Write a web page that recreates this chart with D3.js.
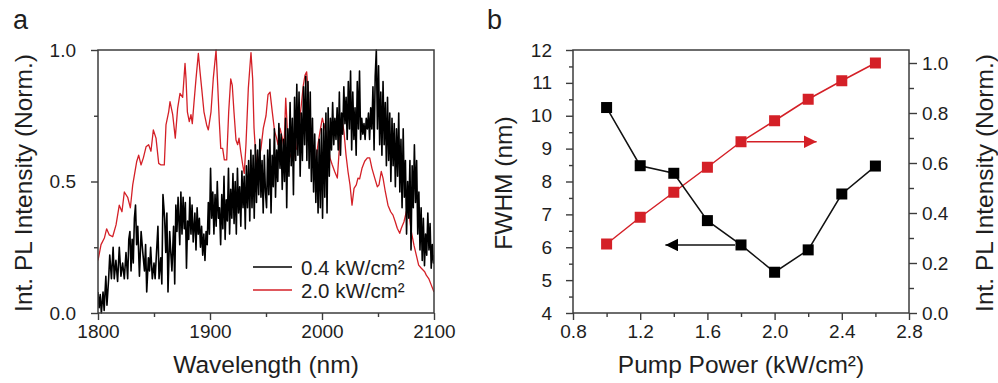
<!DOCTYPE html>
<html>
<head>
<meta charset="utf-8">
<script src="https://cdn.jsdelivr.net/npm/d3@7"></script>
<style>
  html, body { margin: 0; padding: 0; background: #fff; }
  svg { display: block; }
</style>
</head>
<body>
<div id="chart"></div>
<script>
// ---- panel a: PL spectra (wavelength nm, normalised intensity) ----
const lowPumpSpectrum = [
  [1800.0,0.08],[1801.0,0.02],[1802.0,0.07],[1803.0,0.00],[1804.5,0.08],[1805.5,0.01],[1807.0,0.14],[1808.0,0.03],
  [1809.5,0.13],[1810.5,0.22],[1812.0,0.13],[1813.5,0.25],[1814.5,0.13],[1816.0,0.20],[1817.5,0.12],[1819.0,0.25],
  [1820.5,0.14],[1822.0,0.19],[1823.5,0.13],[1825.0,0.23],[1826.5,0.13],[1827.5,0.28],[1828.5,0.31],[1829.5,0.16],
  [1830.5,0.28],[1831.5,0.19],[1832.5,0.36],[1833.5,0.41],[1834.5,0.26],[1835.5,0.33],[1837.0,0.14],[1838.5,0.31],
  [1840.0,0.23],[1841.5,0.16],[1842.5,0.26],[1843.5,0.08],[1845.0,0.21],[1846.0,0.16],[1847.0,0.25],[1848.5,0.13],
  [1850.0,0.19],[1851.0,0.13],[1852.5,0.25],[1853.5,0.33],[1854.5,0.13],[1856.0,0.21],[1857.0,0.11],[1858.0,0.45],
  [1859.5,0.36],[1860.5,0.23],[1861.5,0.38],[1862.5,0.08],[1864.0,0.31],[1865.0,0.23],[1866.0,0.16],[1867.5,0.33],
  [1868.5,0.11],[1869.5,0.41],[1870.5,0.31],[1871.5,0.44],[1873.0,0.26],[1874.0,0.46],[1875.0,0.30],[1876.0,0.44],
  [1877.0,0.32],[1878.0,0.42],[1879.0,0.17],[1880.0,0.35],[1881.0,0.28],[1882.0,0.44],[1883.0,0.30],[1884.0,0.41],
  [1885.0,0.27],[1886.5,0.38],[1887.5,0.24],[1888.5,0.40],[1889.5,0.30],[1890.5,0.36],[1891.5,0.25],[1892.5,0.33],
  [1893.5,0.22],[1894.5,0.30],[1895.5,0.20],[1896.5,0.31],[1897.5,0.26],[1898.5,0.42],[1899.5,0.30],[1900.5,0.55],
  [1901.5,0.36],[1902.5,0.46],[1903.5,0.30],[1904.5,0.45],[1905.5,0.33],[1906.5,0.50],[1907.5,0.36],[1908.5,0.40],
  [1909.5,0.26],[1910.5,0.45],[1911.5,0.32],[1912.5,0.52],[1913.5,0.28],[1914.5,0.43],[1915.5,0.35],[1916.5,0.55],
  [1917.5,0.30],[1918.5,0.47],[1919.5,0.36],[1920.5,0.53],[1921.5,0.34],[1922.5,0.50],[1923.5,0.30],[1924.5,0.55],
  [1925.5,0.38],[1926.5,0.48],[1927.5,0.33],[1928.5,0.54],[1929.5,0.40],[1930.5,0.52],[1931.5,0.32],[1932.5,0.56],
  [1933.5,0.40],[1934.5,0.58],[1935.5,0.35],[1936.5,0.62],[1937.5,0.40],[1938.5,0.60],[1939.5,0.36],[1940.5,0.64],
  [1941.5,0.42],[1942.5,0.62],[1943.5,0.45],[1944.5,0.66],[1945.5,0.44],[1946.5,0.58],[1947.5,0.38],[1948.5,0.60],
  [1949.5,0.46],[1950.5,0.40],[1951.5,0.62],[1952.5,0.45],[1953.5,0.66],[1954.5,0.38],[1955.5,0.60],[1956.5,0.48],
  [1957.5,0.70],[1958.5,0.44],[1959.5,0.62],[1960.5,0.50],[1961.5,0.72],[1962.5,0.55],[1963.5,0.68],[1964.5,0.47],
  [1965.5,0.66],[1966.5,0.50],[1967.5,0.74],[1968.5,0.40],[1969.5,0.70],[1970.5,0.52],[1971.5,0.80],[1972.5,0.56],
  [1973.5,0.74],[1974.5,0.45],[1975.5,0.82],[1976.5,0.58],[1977.5,0.87],[1978.5,0.60],[1979.5,0.84],[1980.5,0.52],
  [1981.5,0.76],[1982.5,0.58],[1983.5,0.86],[1984.5,0.64],[1985.5,0.90],[1986.5,0.58],[1987.5,0.88],[1988.5,0.55],
  [1989.5,0.84],[1990.5,0.50],[1991.5,0.74],[1992.5,0.46],[1993.5,0.68],[1994.5,0.42],[1995.5,0.62],[1996.5,0.38],
  [1997.5,0.66],[1998.5,0.40],[1999.5,0.70],[2000.5,0.36],[2001.5,0.72],[2002.5,0.44],[2003.5,0.76],[2004.5,0.38],
  [2005.5,0.78],[2006.5,0.52],[2007.5,0.74],[2008.5,0.62],[2009.5,0.80],[2010.5,0.64],[2011.5,0.74],[2012.5,0.66],
  [2013.5,0.78],[2014.5,0.62],[2015.5,0.84],[2016.5,0.60],[2017.5,0.76],[2018.5,0.68],[2019.5,0.86],[2020.5,0.72],
  [2021.5,0.82],[2022.5,0.66],[2023.5,0.88],[2024.5,0.70],[2025.5,0.92],[2026.5,0.62],[2027.5,0.84],[2028.5,0.66],
  [2029.5,0.78],[2030.5,0.60],[2031.5,0.88],[2032.5,0.70],[2033.5,0.92],[2034.5,0.66],[2035.5,0.74],[2036.5,0.68],
  [2037.5,0.72],[2038.5,0.66],[2039.5,0.74],[2040.5,0.70],[2041.5,0.76],[2042.5,0.66],[2043.5,0.78],[2044.5,0.70],
  [2045.5,0.86],[2046.5,0.62],[2047.5,0.90],[2048.5,1.00],[2049.5,0.70],[2050.5,0.94],[2051.5,0.64],[2052.5,0.84],
  [2053.5,0.60],[2054.5,0.88],[2055.5,0.64],[2056.5,0.80],[2057.5,0.56],[2058.5,0.82],[2059.5,0.58],[2060.5,0.76],
  [2061.5,0.50],[2062.5,0.74],[2063.5,0.56],[2064.5,0.72],[2065.5,0.48],[2066.5,0.70],[2067.5,0.52],[2068.5,0.76],
  [2069.5,0.46],[2070.5,0.66],[2071.5,0.40],[2072.5,0.70],[2073.5,0.44],[2074.5,0.58],[2075.5,0.30],[2076.5,0.50],
  [2077.5,0.36],[2078.5,0.58],[2079.5,0.24],[2080.5,0.56],[2081.5,0.40],[2082.5,0.64],[2083.5,0.42],[2084.5,0.58],
  [2085.5,0.30],[2086.5,0.46],[2087.5,0.24],[2088.5,0.40],[2089.5,0.20],[2090.5,0.36],[2091.5,0.18],[2092.5,0.30],
  [2093.5,0.22],[2094.5,0.38],[2095.5,0.24],[2096.5,0.34],[2097.5,0.17],[2098.5,0.26],[2099.5,0.19],[2100.0,0.22]
];

const highPumpSpectrum = [
  [1800.0,0.20],[1802.7,0.26],[1805.7,0.285],[1807.7,0.32],[1810.1,0.297],[1813.1,0.29],[1816.1,0.335],[1819.0,0.41],
  [1821.4,0.385],[1823.5,0.46],[1826.5,0.44],[1828.9,0.40],[1831.0,0.487],[1834.5,0.575],[1836.3,0.60],[1838.4,0.563],
  [1840.5,0.59],[1842.9,0.632],[1845.2,0.64],[1847.3,0.615],[1849.4,0.696],[1851.8,0.665],[1854.2,0.569],[1856.3,0.563],
  [1859.2,0.563],[1860.7,0.715],[1863.1,0.765],[1864.3,0.804],[1866.7,0.754],[1869.0,0.665],[1871.1,0.778],[1873.2,0.835],
  [1875.6,0.82],[1877.7,0.949],[1878.6,0.89],[1879.8,0.765],[1881.5,0.728],[1883.0,0.754],[1884.2,0.72],[1885.7,0.80],
  [1887.5,0.89],[1889.6,0.987],[1891.1,0.917],[1892.6,0.853],[1894.6,0.765],[1897.0,0.715],[1898.5,0.696],[1900.9,0.765],
  [1902.9,0.89],[1905.4,1.0],[1906.9,0.865],[1908.3,0.728],[1909.6,0.626],[1911.3,0.626],[1912.8,0.582],[1914.9,0.582],
  [1916.7,0.765],[1918.5,0.89],[1919.9,0.865],[1921.4,0.765],[1923.2,0.658],[1924.7,0.64],[1925.9,0.665],[1927.4,0.615],
  [1929.2,0.563],[1930.6,0.531],[1932.1,0.64],[1934.2,0.853],[1935.7,0.94],[1936.6,0.99],[1938.1,0.89],[1939.3,0.703],
  [1940.8,0.602],[1942.2,0.55],[1944.0,0.59],[1945.5,0.626],[1947.6,0.703],[1950.0,0.75],[1951.8,0.83],[1953.6,0.84],
  [1955.6,0.765],[1957.7,0.69],[1959.5,0.665],[1960.7,0.64],[1962.5,0.703],[1964.6,0.665],[1966.1,0.626],[1967.6,0.817],
  [1969.0,0.703],[1970.5,0.615],[1972.6,0.59],[1974.4,0.577],[1975.6,0.615],[1977.4,0.626],[1979.5,0.715],[1981.5,0.79],
  [1983.3,0.865],[1984.8,0.904],[1986.3,0.917],[1987.8,0.83],[1989.3,0.703],[1991.3,0.615],[1992.9,0.577],[1994.4,0.577],
  [1996.4,0.64],[1998.2,0.69],[2000.3,0.741],[2001.8,0.715],[2003.3,0.69],[2005.4,0.64],[2007.1,0.59],[2009.2,0.563],
  [2011.3,0.538],[2013.7,0.513],[2016.1,0.665],[2018.1,0.728],[2019.6,0.69],[2021.4,0.602],[2023.2,0.538],[2025.0,0.487],
  [2026.8,0.41],[2028.6,0.474],[2030.6,0.487],[2032.1,0.513],[2033.6,0.51],[2035.7,0.55],[2038.1,0.577],[2040.5,0.59],
  [2042.6,0.59],[2044.6,0.55],[2047.1,0.513],[2049.4,0.48],[2050.9,0.487],[2052.9,0.538],[2054.5,0.513],[2056.5,0.462],
  [2058.9,0.41],[2061.3,0.385],[2063.4,0.372],[2065.4,0.347],[2067.2,0.322],[2069.4,0.303],[2070.8,0.322],[2073.2,0.347],
  [2075.3,0.385],[2076.8,0.404],[2078.3,0.36],[2079.7,0.31],[2082.1,0.258],[2084.2,0.22],[2086.3,0.182],[2088.7,0.17],
  [2091.7,0.157],[2093.1,0.144],[2095.3,0.131],[2097.6,0.106],[2100.0,0.08]
];

const spectrumLabels = ['0.4 kW/cm\u00b2', '2.0 kW/cm\u00b2'];
const wavelengthTicks = [1800, 1900, 2000, 2100];
const wavelengthMinor = [1850, 1950, 2050];
const intensityTicks = [0, 0.5, 1.0];
const intensityMinor = [0.25, 0.75];

// ---- panel b: FWHM and integrated PL vs pump power ----
const pumpPower = [1.0, 1.2, 1.4, 1.6, 1.8, 2.0, 2.2, 2.4, 2.6];
const fwhm = [10.25, 8.48, 8.25, 6.81, 6.07, 5.24, 5.92, 7.62, 8.47];
const plIntensity = [0.276, 0.383, 0.483, 0.583, 0.685, 0.769, 0.855, 0.929, 1.0];
const pumpTicks = [0.8, 1.2, 1.6, 2.0, 2.4, 2.8];
const pumpMinor = [1.0, 1.4, 1.8, 2.2, 2.6];
const fwhmTicks = [4, 5, 6, 7, 8, 9, 10, 11, 12];
const fwhmMinor = [4.5, 5.5, 6.5, 7.5, 8.5, 9.5, 10.5, 11.5];
const plTicks = [0, 0.2, 0.4, 0.6, 0.8, 1.0];
const plMinor = [0.1, 0.3, 0.5, 0.7, 0.9];

const FONT = '"Liberation Sans", Arial, Helvetica, sans-serif';
const RED = '#d42027';
const AXIS = '#3c3c3c';
const TXT = '#1e1e1e';

const svg = d3.select('#chart').append('svg')
  .attr('width', 998)
  .attr('height', 383);
svg.append('rect').attr('width', 998).attr('height', 383).attr('fill', '#fff');

const defs = svg.append('defs');
['black', 'red'].forEach(c => {
  defs.append('marker')
    .attr('id', 'head-' + c)
    .attr('viewBox', '0 0 13 13')
    .attr('refX', 13).attr('refY', 6.5)
    .attr('markerWidth', 13).attr('markerHeight', 13)
    .attr('markerUnits', 'userSpaceOnUse')
    .attr('orient', 'auto')
    .append('path')
    .attr('d', 'M0,0 L13,6.5 L0,13 Z')
    .attr('fill', c === 'red' ? RED : '#000');
});

function styleAxis(g, size) {
  g.attr('font-family', FONT).attr('font-size', size);
  g.select('.domain').remove();
  g.selectAll('line').attr('stroke', AXIS).attr('stroke-width', 1.4);
  g.selectAll('text').attr('fill', TXT);
}

function addAxis(axis, tx, ty, size) {
  const g = svg.append('g').attr('transform', `translate(${tx},${ty})`).call(axis);
  styleAxis(g, size);
  return g;
}

function frame(x, y) {
  svg.append('rect')
    .attr('x', x.range()[0]).attr('y', y.range()[1])
    .attr('width', x.range()[1] - x.range()[0])
    .attr('height', y.range()[0] - y.range()[1])
    .attr('fill', 'none').attr('stroke', AXIS).attr('stroke-width', 1.5);
}

function label(txt, x, y, size, opts = {}) {
  const t = svg.append('text')
    .attr('x', x).attr('y', y)
    .attr('font-family', FONT).attr('font-size', size)
    .attr('fill', TXT)
    .attr('text-anchor', opts.anchor || 'middle')
    .text(txt);
  if (opts.rotate) t.attr('transform', `rotate(-90,${x},${y})`);
  return t;
}

// ================= panel a =================
const xA = d3.scaleLinear().domain([1800, 2100]).range([98, 434]);
const yA = d3.scaleLinear().domain([0, 1]).range([313, 50]);

svg.append('clipPath').attr('id', 'clipA')
  .append('rect').attr('x', 98).attr('y', 49).attr('width', 336).attr('height', 265);

const lineA = d3.line().x(d => xA(d[0])).y(d => yA(d[1]));

svg.append('path').datum(highPumpSpectrum)
  .attr('clip-path', 'url(#clipA)')
  .attr('d', lineA).attr('fill', 'none')
  .attr('stroke', RED).attr('stroke-width', 1.3).attr('stroke-linejoin', 'round');

svg.append('path').datum(lowPumpSpectrum)
  .attr('clip-path', 'url(#clipA)')
  .attr('d', lineA).attr('fill', 'none')
  .attr('stroke', '#000').attr('stroke-width', 1.6).attr('stroke-linejoin', 'round');

frame(xA, yA);

addAxis(d3.axisBottom(xA).tickValues(wavelengthMinor).tickSize(4).tickFormat(''), 0, 313, 19);
addAxis(d3.axisBottom(xA).tickValues(wavelengthTicks).tickSize(7).tickPadding(5).tickFormat(d3.format('d')), 0, 313, 19);
addAxis(d3.axisLeft(yA).tickValues(intensityMinor).tickSize(4).tickFormat(''), 98, 0, 19);
addAxis(d3.axisLeft(yA).tickValues(intensityTicks).tickSize(7).tickPadding(15).tickFormat(d3.format('.1f')), 98, 0, 19);

// legend
const legendY = [267, 290];
[['#000', 1.6], [RED, 1.3]].forEach((s, i) => {
  svg.append('line')
    .attr('x1', 253).attr('x2', 292)
    .attr('y1', legendY[i]).attr('y2', legendY[i])
    .attr('stroke', s[0]).attr('stroke-width', s[1]);
  label(spectrumLabels[i], 301, legendY[i] + 7.5, 20.5, { anchor: 'start' });
});

label('Wavelength (nm)', 266, 373, 24.5);
label('Int. PL Intensity (Norm.)', 32, 183, 24.5, { rotate: true });
label('a', 13, 29, 27, { anchor: 'start' });

// ================= panel b =================
const xB = d3.scaleLinear().domain([0.8, 2.8]).range([573, 909]);
const yB = d3.scaleLinear().domain([4, 12]).range([313, 50]);
const yB2 = d3.scaleLinear().domain([0, 1.052]).range([313, 50]);

const fwhmPts = d3.zip(pumpPower, fwhm);
const plPts = d3.zip(pumpPower, plIntensity);

svg.append('path').datum(plPts)
  .attr('d', d3.line().x(d => xB(d[0])).y(d => yB2(d[1])))
  .attr('fill', 'none').attr('stroke', RED).attr('stroke-width', 1.5);

svg.append('path').datum(fwhmPts)
  .attr('d', d3.line().x(d => xB(d[0])).y(d => yB(d[1])))
  .attr('fill', 'none').attr('stroke', '#111').attr('stroke-width', 1.5);

// arrows pointing to the axis each series belongs to
svg.append('line')
  .attr('x1', xB(1.8) + 6).attr('x2', xB(2.25))
  .attr('y1', yB2(plIntensity[4])).attr('y2', yB2(plIntensity[4]))
  .attr('stroke', RED).attr('stroke-width', 1.5)
  .attr('marker-end', 'url(#head-red)');
svg.append('line')
  .attr('x1', xB(1.8) - 6).attr('x2', xB(1.35))
  .attr('y1', yB(fwhm[4])).attr('y2', yB(fwhm[4]))
  .attr('stroke', '#111').attr('stroke-width', 1.5)
  .attr('marker-end', 'url(#head-black)');

const sq = 11;
svg.append('g').selectAll('rect').data(plPts).enter().append('rect')
  .attr('x', d => xB(d[0]) - sq / 2).attr('y', d => yB2(d[1]) - sq / 2)
  .attr('width', sq).attr('height', sq)
  .attr('fill', RED);

svg.append('g').selectAll('rect').data(fwhmPts).enter().append('rect')
  .attr('x', d => xB(d[0]) - sq / 2).attr('y', d => yB(d[1]) - sq / 2)
  .attr('width', sq).attr('height', sq)
  .attr('fill', '#000');

frame(xB, yB);

addAxis(d3.axisBottom(xB).tickValues(pumpMinor).tickSize(4).tickFormat(''), 0, 313, 19);
addAxis(d3.axisBottom(xB).tickValues(pumpTicks).tickSize(7).tickPadding(5).tickFormat(d3.format('.1f')), 0, 313, 19);
addAxis(d3.axisLeft(yB).tickValues(fwhmMinor).tickSize(4).tickFormat(''), 573, 0, 19);
addAxis(d3.axisLeft(yB).tickValues(fwhmTicks).tickSize(7).tickPadding(14).tickFormat(d3.format('d')), 573, 0, 19);
addAxis(d3.axisRight(yB2).tickValues(plMinor).tickSize(5).tickFormat(''), 909, 0, 19);
addAxis(d3.axisRight(yB2).tickValues(plTicks).tickSize(8).tickPadding(5).tickFormat(d3.format('.1f')), 909, 0, 19);

label('Pump Power (kW/cm\u00b2)', 741, 373, 24.5);
label('FWHM (nm)', 512, 183, 24.5, { rotate: true });
label('Int. PL Intensity (Norm.)', 993, 183, 24.5, { rotate: true });
label('b', 487, 29, 27, { anchor: 'start' });
</script>
</body>
</html>
